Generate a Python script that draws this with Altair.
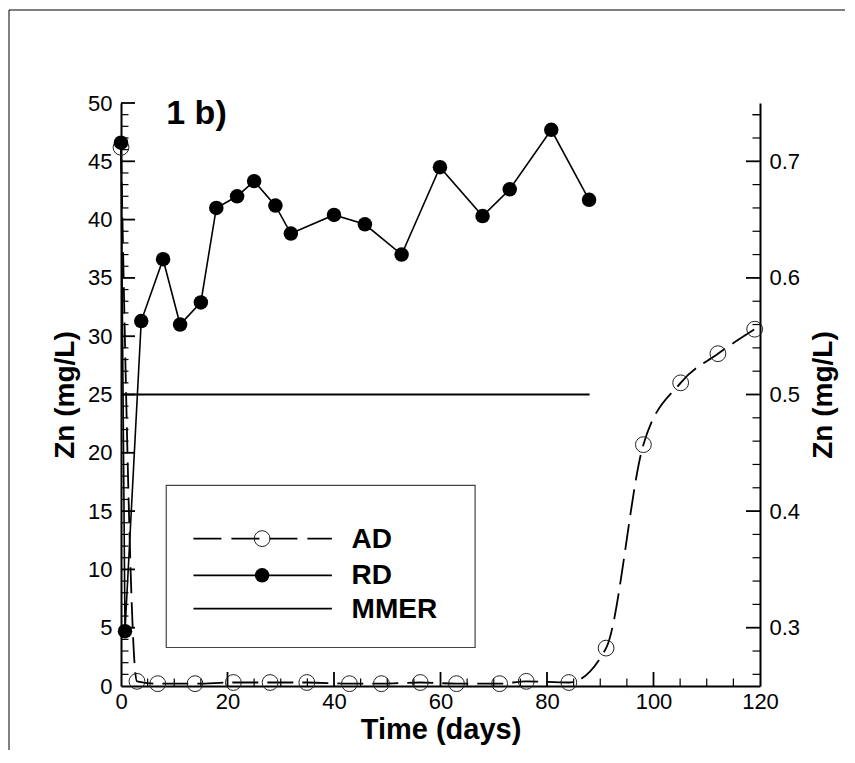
import altair as alt
import pandas as pd

# ---- data ----
rd_days = [0, 0.75, 3.8, 7.9, 11.1, 15, 17.9, 21.8, 25, 29, 31.9, 40, 45.8, 52.7, 59.9, 67.9, 73, 80.8, 87.9]
rd_zn = [46.6, 4.7, 31.3, 36.6, 31.0, 32.9, 41.0, 42.0, 43.3, 41.2, 38.8, 40.4, 39.6, 37.0, 44.5, 40.3, 42.6, 47.7, 41.7]

ad_days = [0, 3, 6.9, 13.9, 21.1, 28, 34.9, 42.9, 48.9, 56.2, 63, 71.1, 76.1, 84.1, 91.1, 98.1, 105.1, 112.1, 119]
ad_zn = [0.712, 0.254, 0.252, 0.252, 0.253, 0.253, 0.253, 0.252, 0.252, 0.253, 0.252, 0.252, 0.254, 0.253,
         0.2825, 0.457, 0.510, 0.535, 0.556]

mmer_days = [0, 88]
mmer_zn = [0.5, 0.5]

legend_labels = ["AD", "RD", "MMER"]
panel_label = "1 b)"

x_major = [0, 20, 40, 60, 80, 100, 120]
left_major = [0, 5, 10, 15, 20, 25, 30, 35, 40, 45, 50]
right_major = [0.3, 0.4, 0.5, 0.6, 0.7]

# ---- layout / style ----
W, H = 639, 583
FONT = "Liberation Sans"
xs = alt.Scale(domain=[0, 120], nice=False, zero=False)
ls = alt.Scale(domain=[0, 50], nice=False, zero=False)
rs = alt.Scale(domain=[0.25, 0.75], nice=False, zero=False)

x_axis = alt.Axis(values=x_major, tickSize=0, domainWidth=2, domainColor="black", grid=False,
                  labelFont=FONT, labelFontSize=22, labelColor="black", labelPadding=5,
                  labelFlush=False, labelOverlap=False,
                  title="Time (days)", titleFont=FONT, titleFontSize=29, titleFontWeight="bold",
                  titleColor="black", titlePadding=3)
left_axis = alt.Axis(orient="left", values=left_major, tickSize=0, domainWidth=2, domainColor="black",
                     grid=False, labelFont=FONT, labelFontSize=22, labelColor="black", labelPadding=9,
                     labelFlush=False, labelOverlap=False,
                     title="Zn (mg/L)", titleFont=FONT, titleFontSize=28, titleFontWeight="bold",
                     titleColor="black", titlePadding=8)
right_axis = alt.Axis(orient="right", values=right_major, format=".1f", tickSize=0, domainWidth=2,
                      domainColor="black", grid=False, labelFont=FONT, labelFontSize=22,
                      labelColor="black", labelPadding=9, labelFlush=False, labelOverlap=False,
                      title="Zn (mg/L)", titleFont=FONT, titleFontSize=28, titleFontWeight="bold",
                      titleColor="black", titlePadding=10, titleAngle=270, titleBaseline="top")


def X(field="day"):
    return alt.X(f"{field}:Q", scale=xs, axis=x_axis)


def YL(field="v", axis=None):
    return alt.Y(f"{field}:Q", scale=ls, axis=axis)


def YR(field="v", axis=None):
    return alt.Y(f"{field}:Q", scale=rs, axis=axis)


rd_df = pd.DataFrame({"day": rd_days, "v": rd_zn})
ad_df = pd.DataFrame({"day": ad_days, "v": ad_zn})
mm_df = pd.DataFrame({"day": mmer_days, "v": mmer_zn})

# inward ticks
MAJ, MIN = 14, 7.5
x_minor = [d for d in range(5, 120, 5) if d % 20 != 0]
l_minor = [v for v in range(1, 50) if v % 5 != 0]
r_minor = [round(0.26 + 0.02 * i, 2) for i in range(25) if round((0.26 + 0.02 * i) * 100) % 10 != 0]

xt_major = alt.Chart(pd.DataFrame({"day": x_major[1:-1]})).mark_rule(color="black", strokeWidth=1.8).encode(
    x=X(), y=alt.value(H), y2=alt.value(H - MAJ))
xt_minor = alt.Chart(pd.DataFrame({"day": x_minor})).mark_rule(color="black", strokeWidth=1.2).encode(
    x=X(), y=alt.value(H), y2=alt.value(H - MIN))
lt_major = alt.Chart(pd.DataFrame({"v": left_major[1:]})).mark_rule(color="black", strokeWidth=1.8).encode(
    y=YL(), x=alt.value(0), x2=alt.value(MAJ))
lt_minor = alt.Chart(pd.DataFrame({"v": l_minor})).mark_rule(color="black", strokeWidth=1.2).encode(
    y=YL(), x=alt.value(0), x2=alt.value(MIN))
rt_major = alt.Chart(pd.DataFrame({"v": right_major})).mark_rule(color="black", strokeWidth=1.8).encode(
    y=YR(), x=alt.value(W), x2=alt.value(W - MAJ))
rt_minor = alt.Chart(pd.DataFrame({"v": r_minor + [0.74]})).mark_rule(color="black", strokeWidth=1.2).encode(
    y=YR(), x=alt.value(W), x2=alt.value(W - MIN))

# series
mmer = alt.Chart(mm_df).mark_line(color="black", strokeWidth=2).encode(x=X(), y=YR())
ad_line = alt.Chart(ad_df).mark_line(color="black", strokeWidth=1.8, strokeDash=[26, 9],
                                     interpolate="monotone").encode(x=X(), y=YR(axis=right_axis))
ad_pts = alt.Chart(ad_df).mark_point(shape="circle", size=250, filled=False, color="#222",
                                     strokeWidth=1, opacity=1).encode(x=X(), y=YR())
rd_line = alt.Chart(rd_df).mark_line(color="black", strokeWidth=1.6).encode(x=X(), y=YL(axis=left_axis))
rd_pts = alt.Chart(rd_df).mark_point(shape="circle", size=210, filled=True, color="black",
                                     opacity=1).encode(x=X(), y=YL())

# panel label
lab = alt.Chart(pd.DataFrame({"day": [8.5], "v": [48.2], "t": [panel_label]})).mark_text(
    align="left", baseline="alphabetic", font=FONT, fontSize=34, fontWeight="bold", color="black"
).encode(x=X(), y=YL(), text="t:N")

# legend (positions in data units of the left / x scales)
box = alt.Chart(pd.DataFrame({"day": [8.5], "d2": [66.5], "v": [17.2], "v2": [3.3]})).mark_rect(
    fill="white", stroke="#444", strokeWidth=1.2).encode(x=X(), x2="d2:Q", y=YL(), y2="v2:Q")
row_y = [12.64, 9.49, 6.64]
seg = pd.DataFrame({"day": [13.6] * 3, "d2": [39.6] * 3, "v": row_y, "name": legend_labels})
leg_ad = alt.Chart(seg[seg.name == "AD"]).mark_rule(color="black", strokeWidth=1.8, strokeDash=[28, 10]).encode(
    x=X(), x2="d2:Q", y=YL())
leg_solid = alt.Chart(seg[seg.name != "AD"]).mark_rule(color="black", strokeWidth=1.8).encode(
    x=X(), x2="d2:Q", y=YL())
sym = pd.DataFrame({"day": [26.5] * 2, "v": row_y[:2], "name": legend_labels[:2]})
leg_ad_pt = alt.Chart(sym[sym.name == "AD"]).mark_point(shape="circle", size=250, filled=False,
                                                         color="#222", strokeWidth=1, opacity=1).encode(
    x=X(), y=YL())
leg_rd_pt = alt.Chart(sym[sym.name == "RD"]).mark_point(shape="circle", size=210, filled=True, color="black",
                                                         opacity=1).encode(x=X(), y=YL())
txt = pd.DataFrame({"day": [43.3] * 3, "v": row_y, "name": legend_labels})
leg_txt = alt.Chart(txt).mark_text(align="left", baseline="middle", font=FONT, fontSize=28,
                                   fontWeight="bold", color="black", dy=1).encode(x=X(), y=YL(), text="name:N")

# outer frame lines (left and top only)
frame_top = alt.Chart(pd.DataFrame({"a": [0]})).mark_rule(color="black", strokeWidth=1).encode(
    x=alt.value(-112), x2=alt.value(W + 200), y=alt.value(-93))
frame_left = alt.Chart(pd.DataFrame({"a": [0]})).mark_rule(color="black", strokeWidth=1).encode(
    x=alt.value(-112), y=alt.value(-93), y2=alt.value(H + 200))

chart = alt.layer(
    rd_line, ad_line, xt_major, xt_minor, lt_major, lt_minor, rt_major, rt_minor,
    mmer, ad_pts, rd_pts, lab,
    box, leg_ad, leg_solid, leg_ad_pt, leg_rd_pt, leg_txt,
    frame_top, frame_left,
).resolve_scale(y="independent").properties(
    width=W, height=H,
    autosize=alt.AutoSizeParams(type="none"),
    padding={"left": 113, "top": 95, "right": 85, "bottom": 64},
    background="white",
).configure_view(stroke=None)

chart.save("out.html", embed_options={"renderer": "svg", "actions": False})
